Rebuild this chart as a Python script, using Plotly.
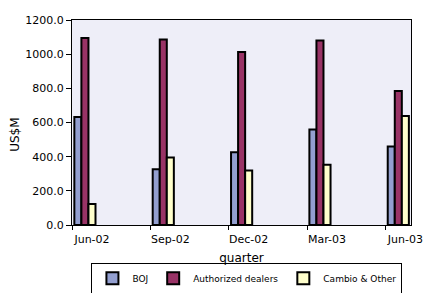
import plotly.graph_objects as go

categories = ["Jun-02", "Sep-02", "Dec-02", "Mar-03", "Jun-03"]
boj = [632, 327, 426, 559, 459]
authorized_dealers = [1094, 1086, 1012, 1080, 784]
cambio_other = [123, 395, 319, 352, 638]
y_ticks = [0, 200, 400, 600, 800, 1000, 1200]

series = [
    ("BOJ", boj, "#939FD0", 0.03),
    ("Authorized dealers", authorized_dealers, "#993366", 0.12),
    ("Cambio & Other", cambio_other, "#FFFFCC", 0.21),
]

fig = go.Figure()
for name, vals, color, off in series:
    fig.add_trace(go.Bar(
        x=categories, y=vals, name=name,
        width=0.09, offset=off,
        marker=dict(color=color, line=dict(color="black", width=2)),
    ))

font_family = "DejaVu Sans"
fig.update_layout(
    width=429, height=293,
    margin=dict(l=72, r=18, t=20, b=68, autoexpand=False),
    barmode="overlay",
    paper_bgcolor="white",
    plot_bgcolor="#EEEEF8",
    font=dict(family=font_family, size=11, color="black"),
    showlegend=True,
    legend=dict(
        orientation="h", x=0.516, xanchor="center", y=-0.26, yanchor="middle",
        bordercolor="black", borderwidth=1, bgcolor="white",
        font=dict(family=font_family, size=9, color="black"),
        traceorder="normal", itemwidth=30, tracegroupgap=0,
    ),
    xaxis=dict(
        type="category", range=[0, 4.327],
        showline=True, linecolor="black", linewidth=1, mirror=True,
        ticks="outside", ticklen=4, tickcolor="black",
        ticklabelshift=20, ticklabeloverflow="allow",
        tickfont=dict(family=font_family, size=11, color="black"),
        showgrid=False,
        title=dict(text="quarter", font=dict(family=font_family, size=12, color="black"), standoff=8),
    ),
    yaxis=dict(
        range=[0, 1200], tickvals=y_ticks, tickformat=".1f",
        showline=True, linecolor="black", linewidth=1, mirror=True,
        ticks="outside", ticklen=5, tickcolor="black",
        tickfont=dict(family=font_family, size=11, color="black"),
        showgrid=False, zeroline=False,
    ),
    annotations=[dict(
        text="US$M", xref="paper", yref="paper",
        x=-0.168, y=0.44, xanchor="center", yanchor="middle",
        textangle=-90, showarrow=False,
        font=dict(family=font_family, size=12, color="black"),
    )],
)

fig.write_html(
    "out.html",
    config={"displayModeBar": False},
    post_script="document.body.style.margin='0px';",
)
